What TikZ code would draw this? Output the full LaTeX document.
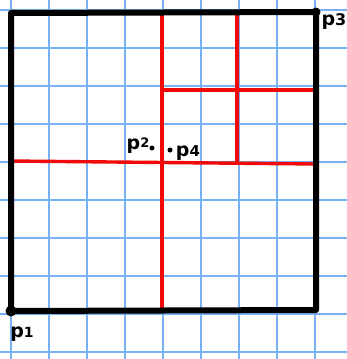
\documentclass[tikz,border=0pt]{standalone}
\usepackage{fontspec}
\setmainfont{DejaVu Sans}
\definecolor{gridblue}{RGB}{120,178,245}
\definecolor{redline}{RGB}{240,10,10}
\begin{document}
\begin{tikzpicture}[x=1pt,y=-1pt,
  gridline/.style={gridblue,line width=1.8pt},
  border/.style={black,line width=6pt,line cap=round,line join=round},
  split/.style={redline,line width=3.4pt},
  lbl/.style={font=\bfseries\fontsize{19}{19}\selectfont,inner sep=0pt},
  dig/.style={},
  pt/.style={circle,fill=black,inner sep=0pt,minimum size=#1}]
\useasboundingbox (0,0) rectangle (347,359);
\fill[white] (0,0) rectangle (347,359);
% grid
\foreach \i in {0,...,9} {
  \draw[gridline] (11+38*\i,0) -- (11+38*\i,359);
  \draw[gridline] (0,10+38*\i) -- (347,10+38*\i);
}
% corners
\coordinate (tl) at (11,13);
\coordinate (tr) at (316,12);
\coordinate (br) at (316,310);
\coordinate (bl) at (11,311);
% red splits
\coordinate (vt) at (162,14);
\coordinate (vb) at (162,310);
\coordinate (hl) at (10,161);
\coordinate (hr) at (316,164);
\coordinate (v2t) at (237,13);
\coordinate (v2b) at (237,163);
\coordinate (h2l) at (162,90);
\coordinate (h2r) at (315,90);
\draw[split] (vt) -- (vb);
\draw[split] (hl) -- (hr);
\draw[split] (v2t) -- (v2b);
\draw[split] (h2l) -- (h2r);
% border
\draw[border] (tl) -- (tr) -- (br) -- (bl) -- cycle;
\node[pt=11pt] (c1) at (bl) {};
\node[pt=9pt] (c3) at (tr) {};
% labels
\node[lbl] (p1) at (22,334) {p{\fontsize{14}{14}\selectfont 1}};
\node[lbl] (p3) at (334,22) {p{\fontsize{16}{16}\selectfont 3}};
\node[lbl] (p2) at (138,146) {p{\fontsize{13}{13}\selectfont\raisebox{0.3ex}{2}}};
\node[pt=5pt] (d2) at (152,148) {};
\node[pt=5pt] (d4) at (170,150) {};
\node[lbl] (p4) at (188,153) {p{\fontsize{15}{15}\selectfont 4}};
\end{tikzpicture}
\end{document}
